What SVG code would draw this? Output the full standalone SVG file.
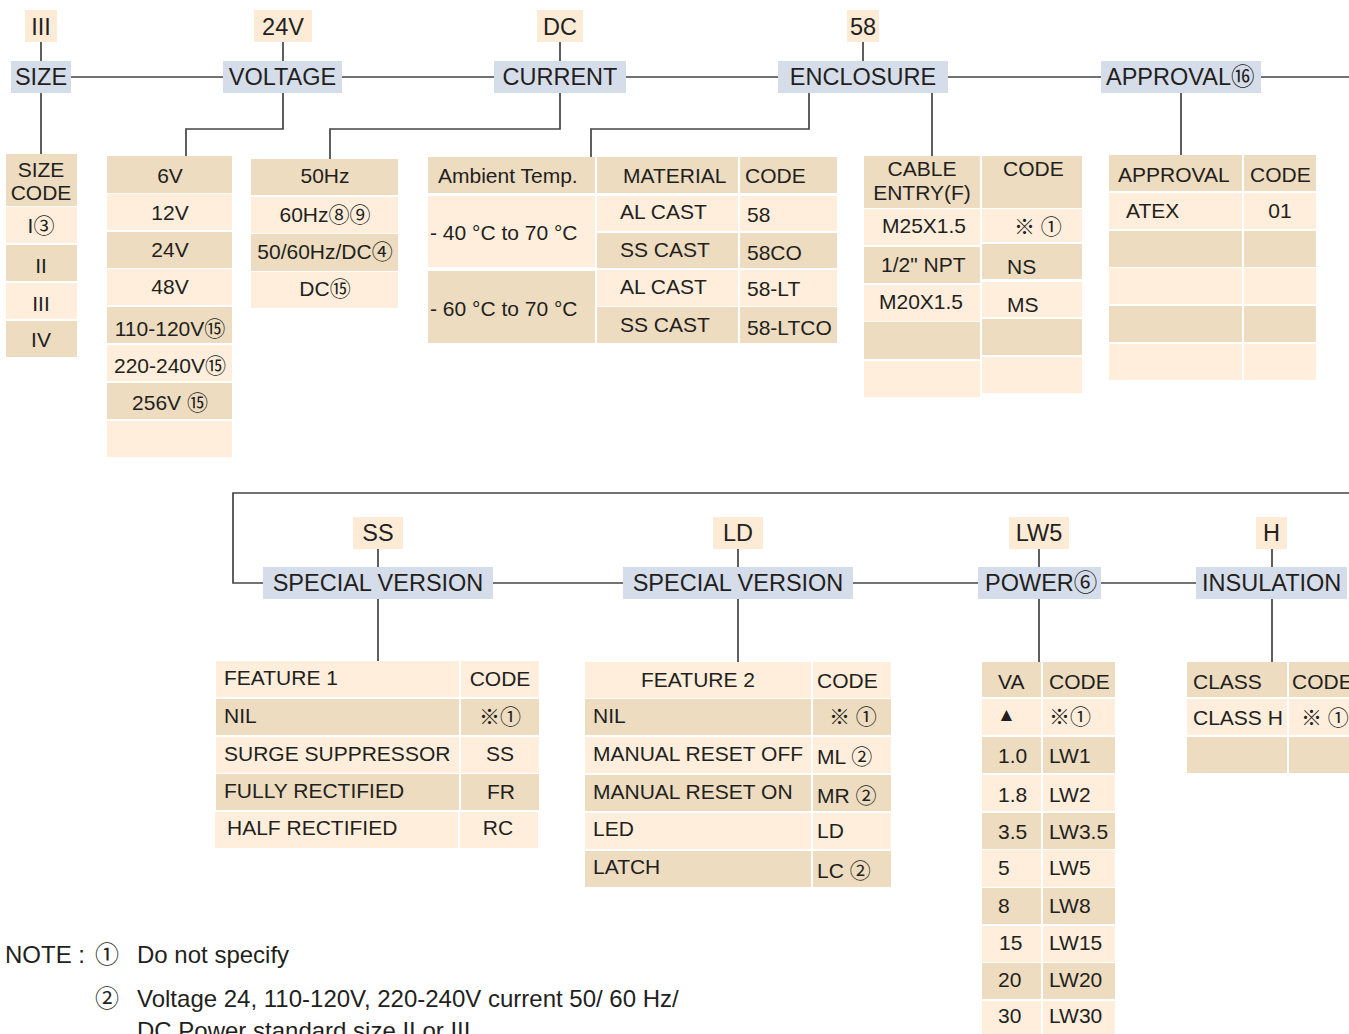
<svg xmlns="http://www.w3.org/2000/svg" width="1349" height="1034" viewBox="0 0 1349 1034">
<style>
text{font-family:"Liberation Sans","Noto Sans CJK JP",sans-serif;fill:#231f20}
.hd{font-size:23.5px}
.t{font-size:21px}
.nt{font-size:24px}
.m{text-anchor:middle}
.h{fill:#d6ddea}
.v{fill:#fdebd6}
.l{fill:#feeedb}
.d{fill:#eddcc0}
.c{fill:none;stroke:#444;stroke-width:1.7}
</style>
<rect width="1349" height="1034" fill="#fff"/>
<g id="connectors" class="c">
<path d="M41 42V61M283 42V61M560 42V61M863 42V61"/>
<path d="M71 77H223M342 77H494M626 77H778M948 77H1101M1261 77H1349"/>
<path d="M41 93V154M283 93V129H186V156M560 93V129H330V159M809 93V129H591V157M932 93V156M1181 93V155"/>
<path d="M1349 493H233V583H263M493 583H623M853 583H978M1101 583H1196"/>
<path d="M378 549V567M738 549V567M1039 549V567M1272 549V567"/>
<path d="M378 599V661M738 599V662M1039 599V662M1272 599V662"/>
</g>
<g id="size">
<rect class="v" x="25" y="10" width="32" height="32"/><text class="hd m" x="41" y="35">III</text>
<rect class="h" x="11" y="61" width="60" height="32"/><text class="hd m" x="41" y="85">SIZE</text>
</g>
<g id="voltage">
<rect class="v" x="254" y="10" width="58" height="32"/><text class="hd m" x="283" y="35">24V</text>
<rect class="h" x="223" y="61" width="119" height="32"/><text class="hd m" x="282.5" y="85">VOLTAGE</text>
</g>
<g id="current">
<rect class="v" x="537" y="10" width="46" height="32"/><text class="hd m" x="560" y="35">DC</text>
<rect class="h" x="494" y="61" width="132" height="32"/><text class="hd m" x="560" y="85">CURRENT</text>
</g>
<g id="enclosure">
<rect class="v" x="847" y="10" width="32" height="32"/><text class="hd m" x="863" y="35">58</text>
<rect class="h" x="778" y="61" width="170" height="32"/><text class="hd m" x="863" y="85">ENCLOSURE</text>
</g>
<g id="approval">
<rect class="h" x="1101" y="61" width="160" height="32"/><text class="hd" x="1106" y="85">APPROVAL⑯</text>
</g>
<g id="size-table" class="t">
<rect class="d" x="6" y="154" width="71" height="52"/>
<text class="t m" x="41" y="177">SIZE</text><text class="t m" x="41" y="200">CODE</text>
<rect class="l" x="6" y="207" width="71" height="36"/><text class="t m" x="41" y="233">I③</text>
<rect class="d" x="6" y="245" width="71" height="36"/><text class="t m" x="41" y="273">II</text>
<rect class="l" x="6" y="283" width="71" height="36"/><text class="t m" x="41" y="311">III</text>
<rect class="d" x="6" y="321" width="71" height="36"/><text class="t m" x="41" y="347">IV</text>
</g>
<g id="voltage-table">
<rect class="d" x="107" y="156" width="125" height="37"/><text class="t m" x="170" y="183">6V</text>
<rect class="l" x="107" y="194" width="125" height="36"/><text class="t m" x="170" y="220">12V</text>
<rect class="d" x="107" y="232" width="125" height="36"/><text class="t m" x="170" y="257">24V</text>
<rect class="l" x="107" y="269" width="125" height="36"/><text class="t m" x="170" y="294">48V</text>
<rect class="d" x="107" y="307" width="125" height="36"/><text class="t m" x="170" y="336">110-120V⑮</text>
<rect class="l" x="107" y="345" width="125" height="36"/><text class="t m" x="170" y="373">220-240V⑮</text>
<rect class="d" x="107" y="383" width="125" height="36"/><text class="t m" x="170" y="410">256V ⑮</text>
<rect class="l" x="107" y="421" width="125" height="36"/>
</g>
<g id="current-table">
<rect class="d" x="251" y="159" width="147" height="36"/><text class="t m" x="325" y="183">50Hz</text>
<rect class="l" x="251" y="197" width="147" height="36"/><text class="t m" x="325" y="222">60Hz⑧⑨</text>
<rect class="d" x="251" y="234" width="147" height="37"/><text class="t m" x="325" y="259">50/60Hz/DC④</text>
<rect class="l" x="251" y="272" width="147" height="36"/><text class="t m" x="325" y="296">DC⑮</text>
</g>
<g id="enclosure-table">
<rect class="d" x="428" y="157" width="167" height="36"/><text class="t" x="438" y="183">Ambient Temp.</text>
<rect class="d" x="597" y="157" width="141" height="36"/><text class="t" x="623" y="183">MATERIAL</text>
<rect class="d" x="740" y="157" width="97" height="36"/><text class="t" x="745" y="183">CODE</text>
<rect class="l" x="428" y="196" width="167" height="71"/><text class="t" x="430" y="240">- 40 °C to 70 °C</text>
<rect class="d" x="428" y="271" width="167" height="72"/><text class="t" x="430" y="316">- 60 °C to 70 °C</text>
<rect class="l" x="597" y="196" width="141" height="35"/><text class="t" x="620" y="219">AL CAST</text>
<rect class="l" x="740" y="196" width="97" height="35"/><text class="t" x="747" y="222">58</text>
<rect class="d" x="597" y="233" width="141" height="35"/><text class="t" x="620" y="257">SS CAST</text>
<rect class="d" x="740" y="233" width="97" height="35"/><text class="t" x="747" y="260">58CO</text>
<rect class="l" x="597" y="270" width="141" height="36"/><text class="t" x="620" y="294">AL CAST</text>
<rect class="l" x="740" y="270" width="97" height="36"/><text class="t" x="747" y="296">58-LT</text>
<rect class="d" x="597" y="307" width="141" height="36"/><text class="t" x="620" y="332">SS CAST</text>
<rect class="d" x="740" y="307" width="97" height="36"/><text class="t" x="747" y="335">58-LTCO</text>
</g>
<g id="cable-table">
<rect class="d" x="864" y="156" width="116" height="52"/><text class="t m" x="922" y="176">CABLE</text><text class="t m" x="922" y="200">ENTRY(F)</text>
<rect class="d" x="982" y="156" width="100" height="52"/><text class="t" x="1003" y="176">CODE</text>
<rect class="l" x="864" y="209" width="116" height="36"/><text class="t" x="882" y="233">M25X1.5</text>
<rect class="d" x="864" y="247" width="116" height="36"/><text class="t" x="881" y="272">1/2" NPT</text>
<rect class="l" x="864" y="285" width="116" height="36"/><text class="t" x="879" y="309">M20X1.5</text>
<rect class="d" x="864" y="322" width="116" height="37"/>
<rect class="l" x="864" y="361" width="116" height="36"/>
<rect class="l" x="982" y="209" width="100" height="33"/><text class="t" x="1014" y="234">※ ①</text>
<rect class="d" x="982" y="244" width="100" height="35"/><text class="t" x="1007" y="274">NS</text>
<rect class="l" x="982" y="282" width="100" height="35"/><text class="t" x="1007" y="312">MS</text>
<rect class="d" x="982" y="319" width="100" height="36"/>
<rect class="l" x="982" y="357" width="100" height="36"/>
</g>
<g id="approval-table">
<rect class="d" x="1109" y="155" width="133" height="36"/><text class="t" x="1118" y="182">APPROVAL</text>
<rect class="d" x="1244" y="155" width="72" height="36"/><text class="t" x="1250" y="182">CODE</text>
<rect class="l" x="1109" y="193" width="133" height="36"/><text class="t" x="1126" y="218">ATEX</text>
<rect class="l" x="1244" y="193" width="72" height="36"/><text class="t m" x="1280" y="218">01</text>
<rect class="d" x="1109" y="231" width="133" height="36"/><rect class="d" x="1244" y="231" width="72" height="36"/>
<rect class="l" x="1109" y="268" width="133" height="36"/><rect class="l" x="1244" y="268" width="72" height="36"/>
<rect class="d" x="1109" y="306" width="133" height="36"/><rect class="d" x="1244" y="306" width="72" height="36"/>
<rect class="l" x="1109" y="344" width="133" height="36"/><rect class="l" x="1244" y="344" width="72" height="36"/>
</g>
<g id="special1">
<rect class="v" x="353" y="517" width="50" height="32"/><text class="hd m" x="378" y="541">SS</text>
<rect class="h" x="263" y="567" width="230" height="32"/><text class="hd m" x="378" y="591">SPECIAL VERSION</text>
</g>
<g id="special2">
<rect class="v" x="713" y="517" width="50" height="32"/><text class="hd m" x="738" y="541">LD</text>
<rect class="h" x="623" y="567" width="230" height="32"/><text class="hd m" x="738" y="591">SPECIAL VERSION</text>
</g>
<g id="power">
<rect class="v" x="1009" y="517" width="60" height="32"/><text class="hd m" x="1039" y="541">LW5</text>
<rect class="h" x="978" y="567" width="123" height="32"/><text class="hd" x="985" y="591">POWER⑥</text>
</g>
<g id="insulation">
<rect class="v" x="1256" y="517" width="31" height="32"/><text class="hd m" x="1271.5" y="541">H</text>
<rect class="h" x="1196" y="567" width="151" height="32"/><text class="hd" x="1202" y="591">INSULATION</text>
</g>
<g id="feature1-table">
<rect class="l" x="216" y="661" width="243" height="36"/><text class="t" x="224" y="685">FEATURE 1</text>
<rect class="l" x="461" y="661" width="78" height="36"/><text class="t m" x="500" y="686">CODE</text>
<rect class="d" x="216" y="699" width="243" height="36"/><text class="t" x="224" y="723">NIL</text>
<rect class="d" x="461" y="699" width="78" height="36"/><text class="t m" x="500" y="724">※①</text>
<rect class="l" x="216" y="737" width="243" height="36"/><text class="t" x="224" y="761">SURGE SUPPRESSOR</text>
<rect class="l" x="461" y="737" width="78" height="36"/><text class="t m" x="500" y="761">SS</text>
<rect class="d" x="216" y="774" width="243" height="36"/><text class="t" x="224" y="798">FULLY RECTIFIED</text>
<rect class="d" x="461" y="774" width="78" height="36"/><text class="t m" x="501" y="799">FR</text>
<rect class="l" x="215" y="812" width="243" height="36"/><text class="t" x="227" y="835">HALF RECTIFIED</text>
<rect class="l" x="460" y="812" width="78" height="36"/><text class="t m" x="498" y="835">RC</text>
</g>
<g id="feature2-table">
<rect class="l" x="585" y="662" width="226" height="36"/><text class="t m" x="698" y="687">FEATURE 2</text>
<rect class="l" x="813" y="662" width="78" height="36"/><text class="t" x="817" y="688">CODE</text>
<rect class="d" x="585" y="699" width="226" height="36"/><text class="t" x="593" y="723">NIL</text>
<rect class="d" x="813" y="699" width="78" height="36"/><text class="t" x="829" y="724">※ ①</text>
<rect class="l" x="585" y="737" width="226" height="36"/><text class="t" x="593" y="761">MANUAL RESET OFF</text>
<rect class="l" x="813" y="737" width="78" height="36"/><text class="t" x="817" y="764">ML ②</text>
<rect class="d" x="585" y="775" width="226" height="36"/><text class="t" x="593" y="799">MANUAL RESET ON</text>
<rect class="d" x="813" y="775" width="78" height="36"/><text class="t" x="817" y="803">MR ②</text>
<rect class="l" x="585" y="813" width="226" height="36"/><text class="t" x="593" y="836">LED</text>
<rect class="l" x="813" y="813" width="78" height="36"/><text class="t" x="817" y="838">LD</text>
<rect class="d" x="585" y="851" width="226" height="36"/><text class="t" x="593" y="874">LATCH</text>
<rect class="d" x="813" y="851" width="78" height="36"/><text class="t" x="817" y="878">LC ②</text>
</g>
<g id="power-table">
<rect class="d" x="982" y="662" width="59" height="35"/><text class="t" x="998" y="689">VA</text>
<rect class="d" x="1043" y="662" width="72" height="35"/><text class="t" x="1049" y="689">CODE</text>
<rect class="l" x="982" y="699" width="59" height="36"/><text class="t" x="997" y="721" style="font-size:19px">▲</text>
<rect class="l" x="1043" y="699" width="72" height="36"/><text class="t" x="1049" y="724">※①</text>
<rect class="d" x="982" y="737" width="59" height="36"/><text class="t" x="998" y="763">1.0</text>
<rect class="d" x="1043" y="737" width="72" height="36"/><text class="t" x="1049" y="763">LW1</text>
<rect class="l" x="982" y="775" width="59" height="36"/><text class="t" x="998" y="802">1.8</text>
<rect class="l" x="1043" y="775" width="72" height="36"/><text class="t" x="1049" y="802">LW2</text>
<rect class="d" x="982" y="813" width="59" height="36"/><text class="t" x="998" y="839">3.5</text>
<rect class="d" x="1043" y="813" width="72" height="36"/><text class="t" x="1049" y="839">LW3.5</text>
<rect class="l" x="982" y="850" width="59" height="37"/><text class="t" x="998" y="875">5</text>
<rect class="l" x="1043" y="850" width="72" height="37"/><text class="t" x="1049" y="875">LW5</text>
<rect class="d" x="982" y="888" width="59" height="36"/><text class="t" x="998" y="913">8</text>
<rect class="d" x="1043" y="888" width="72" height="36"/><text class="t" x="1049" y="913">LW8</text>
<rect class="l" x="982" y="926" width="59" height="36"/><text class="t" x="999" y="950">15</text>
<rect class="l" x="1043" y="926" width="72" height="36"/><text class="t" x="1049" y="950">LW15</text>
<rect class="d" x="982" y="963" width="59" height="36"/><text class="t" x="998" y="987">20</text>
<rect class="d" x="1043" y="963" width="72" height="36"/><text class="t" x="1049" y="987">LW20</text>
<rect class="l" x="982" y="1001" width="59" height="40"/><text class="t" x="998" y="1023">30</text>
<rect class="l" x="1043" y="1001" width="72" height="40"/><text class="t" x="1049" y="1023">LW30</text>
</g>
<g id="insulation-table">
<rect class="d" x="1187" y="662" width="100" height="35"/><text class="t" x="1193" y="689">CLASS</text>
<rect class="d" x="1289" y="662" width="70" height="35"/><text class="t" x="1292" y="689">CODE</text>
<rect class="l" x="1187" y="699" width="100" height="36"/><text class="t" x="1193" y="725">CLASS H</text>
<rect class="l" x="1289" y="699" width="70" height="36"/><text class="t" x="1301" y="725">※ ①</text>
<rect class="d" x="1187" y="737" width="100" height="36"/>
<rect class="d" x="1289" y="737" width="70" height="36"/>
</g>
<g id="notes">
<text class="nt" x="5" y="963">NOTE :</text>
<text class="nt m" x="107" y="963">①</text>
<text class="nt" x="137" y="963">Do not specify</text>
<text class="nt m" x="107" y="1007">②</text>
<text class="nt" x="137" y="1007">Voltage 24, 110-120V, 220-240V current 50/ 60 Hz/</text>
<text class="nt" x="137" y="1039">DC Power standard size II or III</text>
</g>
</svg>
